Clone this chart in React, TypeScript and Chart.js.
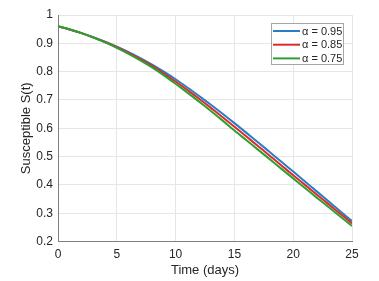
import React, { useEffect, useRef } from "react";
import { Chart, registerables } from "chart.js";

Chart.register(...registerables);

const days = [0, 1, 2, 3, 4, 5, 6, 7, 8, 9, 10, 11, 12, 13, 14, 15, 16, 17, 18, 19, 20, 21, 22, 23, 24, 25];

const alpha095 = [0.960, 0.949, 0.936, 0.9215, 0.9055, 0.888, 0.869, 0.848, 0.825, 0.800, 0.773, 0.744, 0.714, 0.683, 0.651, 0.618, 0.5845, 0.5505, 0.516, 0.4815, 0.447, 0.412, 0.377, 0.342, 0.307, 0.272];
const alpha085 = [0.960, 0.949, 0.936, 0.921, 0.9045, 0.886, 0.866, 0.844, 0.820, 0.793, 0.765, 0.735, 0.704, 0.672, 0.639, 0.605, 0.5715, 0.5375, 0.503, 0.4685, 0.434, 0.400, 0.366, 0.332, 0.298, 0.264];
const alpha075 = [0.960, 0.949, 0.936, 0.9205, 0.9035, 0.884, 0.863, 0.840, 0.815, 0.787, 0.757, 0.726, 0.694, 0.661, 0.627, 0.592, 0.5585, 0.5245, 0.491, 0.4565, 0.423, 0.389, 0.355, 0.322, 0.288, 0.255];

const seriesLabels = ["α = 0.95", "α = 0.85", "α = 0.75"];
const seriesColors = ["#2a7cc7", "#dc2b2b", "#2fa02f"];

const xTicks = [0, 5, 10, 15, 20, 25];
const yTicks = [0.2, 0.3, 0.4, 0.5, 0.6, 0.7, 0.8, 0.9, 1];

const FONT = "'Liberation Sans', Arial, Helvetica, sans-serif";
const TEXT = "#262626";

const boxLegend = {
  id: "boxLegend",
  afterDraw(chart: any) {
    const { ctx, chartArea } = chart;
    const w = 73;
    const h = 42;
    const x = chartArea.right - 8 - w;
    const y = chartArea.top + 8;
    ctx.save();
    ctx.fillStyle = "#ffffff";
    ctx.fillRect(x, y, w, h);
    ctx.strokeStyle = "#a6a6a6";
    ctx.lineWidth = 1;
    ctx.strokeRect(x + 0.5, y + 0.5, w - 1, h - 1);
    ctx.font = "11px " + FONT;
    ctx.textBaseline = "middle";
    ctx.textAlign = "left";
    chart.data.datasets.forEach((ds: any, i: number) => {
      const ly = y + 8 + i * 13.7;
      ctx.strokeStyle = ds.borderColor;
      ctx.lineWidth = 2;
      ctx.beginPath();
      ctx.moveTo(x + 2, ly);
      ctx.lineTo(x + 29, ly);
      ctx.stroke();
      ctx.fillStyle = TEXT;
      ctx.fillText(ds.label, x + 31, ly + 0.5);
    });
    ctx.restore();
  },
};

export default function App() {
  const ref = useRef<HTMLCanvasElement>(null);

  useEffect(() => {
    document.body.style.margin = "0";
    const series = [alpha095, alpha085, alpha075];
    const chart = new Chart(ref.current!, {
      type: "line",
      data: {
        labels: days,
        datasets: series.map((s, i) => ({
          label: seriesLabels[i],
          data: days.map((d, j) => ({ x: d, y: s[j] })),
          borderColor: seriesColors[i],
          backgroundColor: seriesColors[i],
          borderWidth: 2,
          pointRadius: 0,
          tension: 0.3,
          order: 3 - i,
        })),
      },
      options: {
        responsive: false,
        animation: false,
        layout: { padding: { top: 15, right: 27, left: 0, bottom: 0 } },
        plugins: { legend: { display: false }, tooltip: { enabled: false } },
        scales: {
          x: {
            type: "linear",
            min: 0,
            max: 25,
            afterBuildTicks: (scale: any) => {
              scale.ticks = xTicks.map((v) => ({ value: v }));
            },
            afterFit: (scale: any) => {
              scale.height = 39.5;
            },
            ticks: {
              color: TEXT,
              font: { family: FONT, size: 12 },
              padding: 6,
              maxRotation: 0,
              callback: (v: any) => String(v),
            },
            grid: { color: "#e6e6e6", drawTicks: false, lineWidth: 1 },
            border: { color: "#808080", width: 1 },
            title: {
              display: true,
              text: "Time (days)",
              color: TEXT,
              font: { family: FONT, size: 13 },
              padding: { top: 0, bottom: 3 },
            },
          },
          y: {
            type: "linear",
            min: 0.2,
            max: 1,
            afterBuildTicks: (scale: any) => {
              scale.ticks = yTicks.map((v) => ({ value: v }));
            },
            afterFit: (scale: any) => {
              scale.width = 58;
            },
            ticks: {
              color: TEXT,
              font: { family: FONT, size: 12 },
              padding: 5,
              callback: (v: any) => String(Math.round(Number(v) * 10) / 10),
            },
            grid: { color: "#e6e6e6", drawTicks: false, lineWidth: 1 },
            border: { color: "#808080", width: 1 },
            title: {
              display: true,
              text: "Susceptible S(t)",
              color: TEXT,
              font: { family: FONT, size: 13 },
              padding: { top: 19, bottom: 0 },
            },
          },
        },
      },
      plugins: [boxLegend],
    });
    return () => chart.destroy();
  }, []);

  return (
    <div style={{ width: 379, height: 281, background: "#fff" }}>
      <canvas ref={ref} width={379} height={281} style={{ display: "block" }} />
    </div>
  );
}
